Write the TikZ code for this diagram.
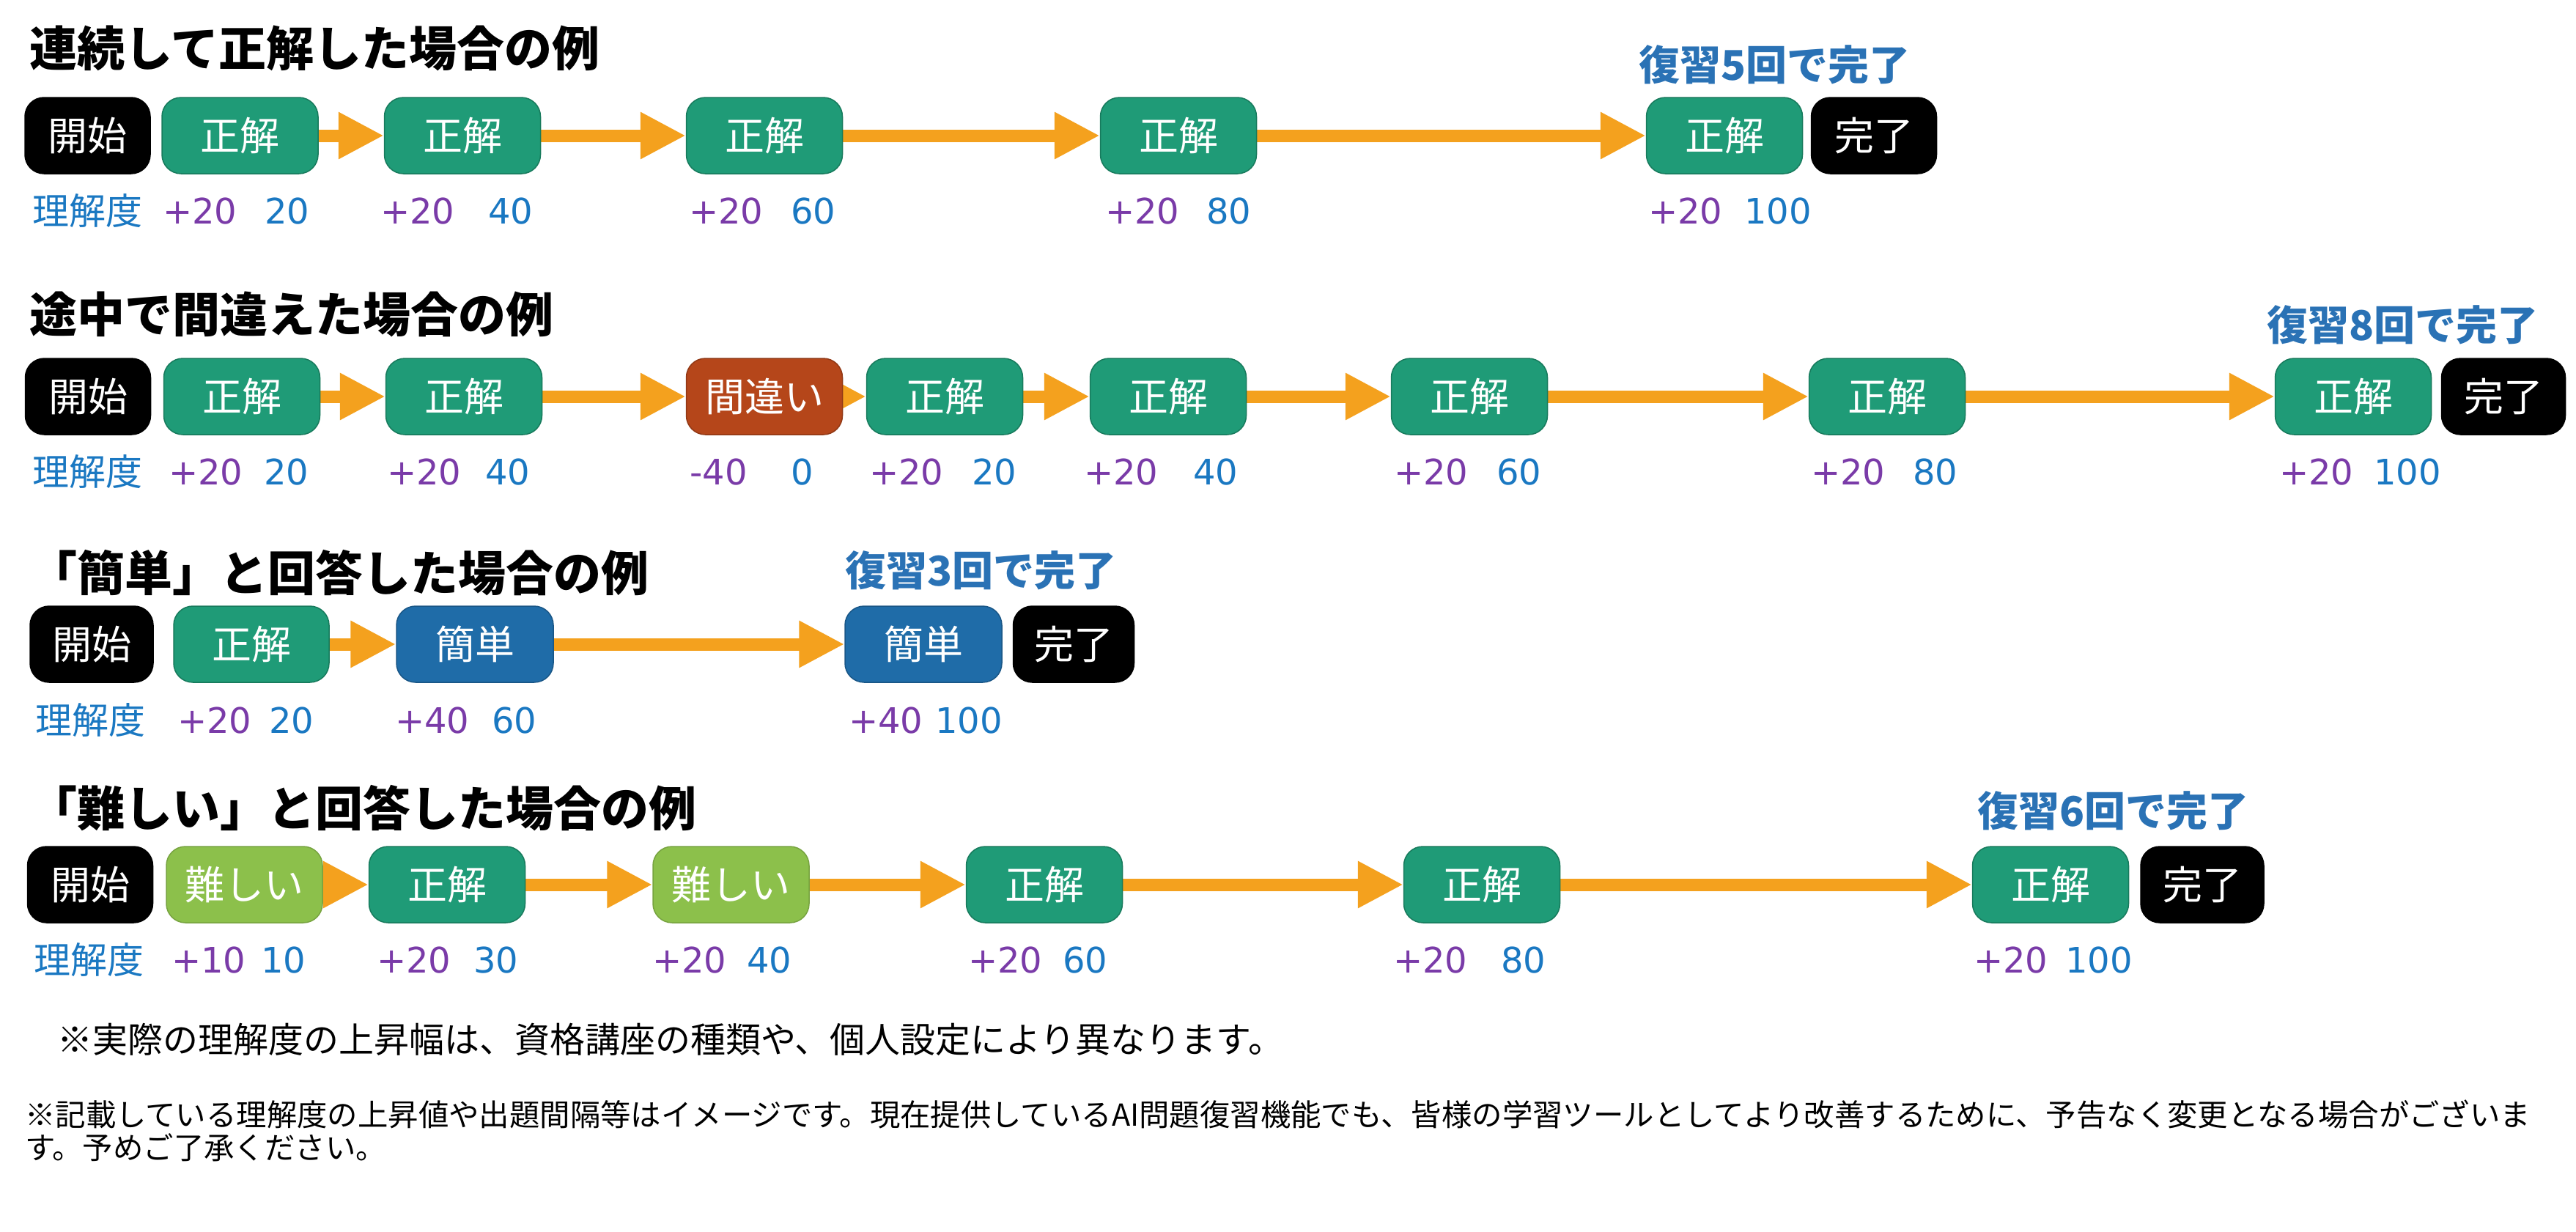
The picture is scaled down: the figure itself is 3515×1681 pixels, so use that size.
\documentclass[tikz,border=0pt]{standalone}
\usepackage{fontspec}
\setmainfont{Noto Sans CJK JP}
\newfontfamily\digitfont{DejaVu Sans}
\usetikzlibrary{arrows.meta}
\definecolor{okc}{HTML}{1F9B77}
\definecolor{okd}{HTML}{177A5C}
\definecolor{ngc}{HTML}{B5461A}
\definecolor{ezc}{HTML}{1F6CA8}
\definecolor{hdc}{HTML}{8CC04B}
\definecolor{arc}{HTML}{F4A11E}
\definecolor{plc}{HTML}{7A3BA8}
\definecolor{blc}{HTML}{1A78C2}
\definecolor{ttc}{HTML}{2A72B5}
\pgfdeclarelayer{bg}\pgfsetlayers{bg,main}
\begin{document}
\begin{tikzpicture}[x=1pt,y=-1pt,
 box/.style={rounded corners=26pt, minimum height=104pt, inner sep=0pt, text=white, font=\fontsize{54}{60}\selectfont, line width=1.5pt},
 ok/.style={box, fill=okc, draw=okd, minimum width=213pt},
 ng/.style={box, fill=ngc, draw=ngc!80!black, minimum width=213pt},
 ez/.style={box, fill=ezc, draw=ezc!80!black, minimum width=214pt},
 hd/.style={box, fill=hdc, draw=hdc!85!black, minimum width=213pt},
 term/.style={box, fill=black, draw=black, minimum width=170pt},
 flow/.style={draw=arc, line width=17pt, -{Triangle[length=62pt,width=60pt]}},
 title/.style={anchor=west, inner sep=0pt, font=\fontsize{65}{72}\selectfont\bfseries},
 done/.style={anchor=west, inner sep=0pt, text=ttc, font=\fontsize{56}{64}\selectfont\bfseries},
 lab/.style={anchor=west, inner sep=0pt, text=blc, font=\fontsize{50}{56}\selectfont},
 inc/.style={lab, text=plc, font=\fontsize{48}{56}\selectfont\digitfont},
 val/.style={lab, text=blc, font=\fontsize{48}{56}\selectfont\digitfont},
 note/.style={anchor=west, inner sep=0pt, font=\fontsize{48}{56}\selectfont},
 notesm/.style={anchor=west, inner sep=0pt, font=\fontsize{41.4}{48}\selectfont},
]
\useasboundingbox (0,0) rectangle (3515,1681);
\begin{pgfonlayer}{bg}
\fill[white] (0,0) rectangle (3515,1681);
\end{pgfonlayer}

% ---------- Row 1 ----------
\node[title] (t1) at (40,66) {連続して正解した場合の例};
\node[term,minimum width=171pt] (a0) at (119.5,185) {開始};
\node[ok] (a1) at (327.5,185) {正解};
\node[ok] (a2) at (631,185) {正解};
\node[ok] (a3) at (1043,185) {正解};
\node[ok] (a4) at (1608,185) {正解};
\node[ok] (a5) at (2353,185) {正解};
\node[term,minimum width=171pt] (a6) at (2557,185) {完了};
\node[done] (d1) at (2236,88) {復習5回で完了};
\node[lab] (l1) at (44,288) {理解度};
\foreach \x/\p/\y/\v [count=\i] in {222/+20/361/20, 519/+20/666/40, 940/+20/1079/60, 1508/+20/1646/80, 2249/+20/2380/100}{
  \node[inc] (pa\i) at (\x,288) {\p};
  \node[val] (va\i) at (\y,288) {\v};
}

% ---------- Row 2 ----------
\node[title] (t2) at (40,429) {途中で間違えた場合の例};
\node[term,minimum width=171pt] (b0) at (120,541) {開始};
\node[ok] (b1) at (330,541) {正解};
\node[ok] (b2) at (633,541) {正解};
\node[ng] (b3) at (1043,541) {間違い};
\node[ok] (b4) at (1289,541) {正解};
\node[ok] (b5) at (1594,541) {正解};
\node[ok] (b6) at (2005,541) {正解};
\node[ok] (b7) at (2575,541) {正解};
\node[ok] (b8) at (3211,541) {正解};
\node[term,minimum width=169pt] (b9) at (3416,541) {完了};
\node[done] (d2) at (3093,443) {復習8回で完了};
\node[lab] (l2) at (44,644) {理解度};
\foreach \x/\p/\y/\v [count=\i] in {230/+20/360/20, 528/+20/662/40, 941/-40/1079/0, 1186/+20/1326/20, 1479/+20/1628/40, 1902/+20/2042/60, 2471/+20/2610/80, 3110/+20/3239/100}{
  \node[inc] (pb\i) at (\x,644) {\p};
  \node[val] (vb\i) at (\y,644) {\v};
}

% ---------- Row 3 ----------
\node[title] (t3) at (40,782) {「簡単」と回答した場合の例};
\node[term,minimum width=168pt] (c0) at (125,879) {開始};
\node[ok,minimum width=212pt] (c1) at (343,879) {正解};
\node[ez] (c2) at (648,879) {簡単};
\node[ez] (c3) at (1260,879) {簡単};
\node[term,minimum width=165pt] (c4) at (1465,879) {完了};
\node[done] (d3) at (1153,778) {復習3回で完了};
\node[lab] (l3) at (48,983) {理解度};
\foreach \x/\p/\y/\v [count=\i] in {242/+20/367/20, 539/+40/671/60, 1158/+40/1276/100}{
  \node[inc] (pc\i) at (\x,983) {\p};
  \node[val] (vc\i) at (\y,983) {\v};
}

% ---------- Row 4 ----------
\node[title] (t4) at (40,1103) {「難しい」と回答した場合の例};
\node[term,minimum width=171pt] (e0) at (123,1207) {開始};
\node[hd] (e1) at (333.5,1207) {難しい};
\node[ok] (e2) at (610,1207) {正解};
\node[hd] (e3) at (997.5,1207) {難しい};
\node[ok] (e4) at (1425,1207) {正解};
\node[ok] (e5) at (2022,1207) {正解};
\node[ok] (e6) at (2798,1207) {正解};
\node[term,minimum width=168pt] (e7) at (3005,1207) {完了};
\node[done] (d4) at (2698,1106) {復習6回で完了};
\node[lab] (l4) at (46,1310) {理解度};
\foreach \x/\p/\y/\v [count=\i] in {234/+10/356/10, 514/+20/646/30, 890/+20/1019/40, 1321/+20/1450/60, 1901/+20/2048/80, 2693/+20/2818/100}{
  \node[inc] (pe\i) at (\x,1310) {\p};
  \node[val] (ve\i) at (\y,1310) {\v};
}

% ---------- Notes ----------
\node[note] (n1) at (78,1418) {※実際の理解度の上昇幅は、資格講座の種類や、個人設定により異なります。};
\node[notesm] (n2) at (34,1520) {※記載している理解度の上昇値や出題間隔等はイメージです。現在提供しているAI問題復習機能でも、皆様の学習ツールとしてより改善するために、予告なく変更となる場合がございま};
\node[notesm] (n3) at (34,1566) {す。予めご了承ください。};

% ---------- Arrows (behind boxes) ----------
\begin{pgfonlayer}{bg}
\foreach \s/\t in {a1/a2, a2/a3, a3/a4, a4/a5,
                   b1/b2, b2/b3, b3/b4, b4/b5, b5/b6, b6/b7, b7/b8,
                   c1/c2, c2/c3,
                   e1/e2, e2/e3, e3/e4, e4/e5, e5/e6}{
  \draw[flow] (\s.center) -- (\t.west);
}
\end{pgfonlayer}
\end{tikzpicture}
\end{document}
